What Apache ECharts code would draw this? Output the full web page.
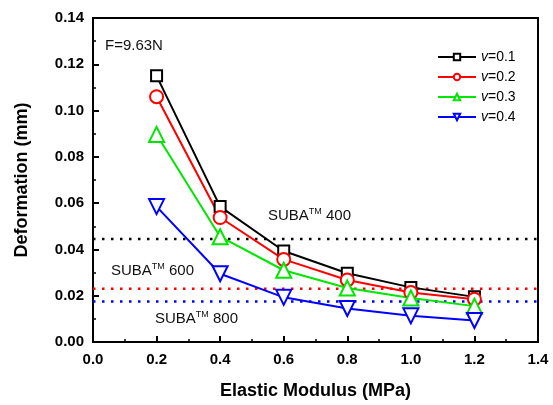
<!DOCTYPE html>
<html>
<head>
<meta charset="utf-8">
<script src="https://cdn.jsdelivr.net/npm/echarts@6/dist/echarts.min.js"></script>
<style>
  html, body { margin: 0; padding: 0; background: #fff; }
  #chart { width: 553px; height: 405px; }
</style>
</head>
<body>
<div id="chart"></div>
<script>
// Elastic modulus of the pad (MPa)
const modulus = [0.2, 0.4, 0.6, 0.8, 1.0, 1.2];

// Deformation (mm) for each Poisson's ratio
const nu01 = [0.115, 0.0585, 0.0393, 0.0297, 0.0236, 0.0195];
const nu02 = [0.106, 0.0538, 0.0357, 0.0268, 0.0214, 0.0185];
const nu03 = [0.0897, 0.0455, 0.031, 0.0233, 0.019, 0.0155];
const nu04 = [0.0585, 0.0295, 0.0193, 0.0145, 0.0113, 0.0093];

const seriesNames = ['0.1', '0.2', '0.3', '0.4'];

// Reference deformation of commercial pads
const suba400 = 0.0445;
const suba600 = 0.023;
const suba800 = 0.0175;

const xRange = [0, 1.4];

const FONT = 'Arial, "Liberation Sans", sans-serif';

function pairs(ys) {
  return modulus.map((x, i) => [x, ys[i]]);
}

function curve(name, ys, color, symbol, size, rotate) {
  return {
    name: name,
    type: 'line',
    data: pairs(ys),
    color: color,
    symbol: symbol,
    symbolSize: size,
    symbolRotate: rotate || 0,
    showAllSymbol: true,
    lineStyle: { color: color, width: 2 },
    itemStyle: { color: color, borderColor: color, borderWidth: 1.6 },
    z: 3
  };
}

function refLine(y, color) {
  return {
    type: 'line',
    data: xRange.map(x => [x, y]),
    symbol: 'none',
    silent: true,
    lineStyle: { color: color, width: 2.5, type: [2.5, 6.5], cap: 'butt' },
    z: 2
  };
}

const chart = echarts.init(document.getElementById('chart'), null, { renderer: 'canvas' });

const supLabel = (num) => ({
  type: 'text',
  style: {
    text: 'SUBA{sup|TM} ' + num,
    font: '15px ' + FONT,
    fill: '#111',
    rich: {
      sup: { fontSize: 9, fontFamily: FONT, fill: '#111', padding: [0, 0, 9, 0] }
    }
  }
});

chart.setOption({
  animation: false,
  backgroundColor: '#fff',
  grid: {
    left: 93, right: 15, top: 18, bottom: 62,
    show: true, borderColor: '#000', borderWidth: 2, backgroundColor: 'transparent'
  },
  legend: {
    data: seriesNames,
    orient: 'vertical',
    left: 432,
    top: 45,
    itemWidth: 38,
    itemHeight: 8,
    itemGap: 6,
    formatter: n => '{i|v}=' + n,
    textStyle: {
      fontFamily: FONT, fontSize: 14, color: '#000',
      rich: { i: { fontStyle: 'italic', fontFamily: FONT, fontSize: 14, color: '#000' } }
    }
  },
  xAxis: {
    type: 'value',
    min: 0, max: 1.4, interval: 0.2,
    name: 'Elastic Modulus (MPa)',
    nameLocation: 'middle',
    nameGap: 40,
    nameTextStyle: { fontFamily: FONT, fontWeight: 'bold', fontSize: 18, color: '#000' },
    axisLine: { lineStyle: { color: '#000', width: 2 } },
    axisTick: { inside: true, length: 6, lineStyle: { color: '#000', width: 2 } },
    minorTick: { show: true, splitNumber: 2, length: 3, lineStyle: { color: '#000', width: 1.5 } },
    splitLine: { show: false },
    axisLabel: {
      margin: 10,
      formatter: v => v.toFixed(1),
      fontFamily: FONT, fontWeight: 'bold', fontSize: 15, color: '#000'
    }
  },
  yAxis: {
    type: 'value',
    min: 0, max: 0.14, interval: 0.02,
    name: 'Deformation (mm)',
    nameLocation: 'middle',
    nameGap: 62,
    nameTextStyle: { fontFamily: FONT, fontWeight: 'bold', fontSize: 18, color: '#000' },
    axisLine: { show: true, lineStyle: { color: '#000', width: 2 } },
    axisTick: { inside: true, length: 6, lineStyle: { color: '#000', width: 2 } },
    minorTick: { show: true, splitNumber: 2, length: 3, lineStyle: { color: '#000', width: 1.5 } },
    splitLine: { show: false },
    axisLabel: {
      margin: 9,
      formatter: v => v.toFixed(2),
      fontFamily: FONT, fontWeight: 'bold', fontSize: 15, color: '#000'
    }
  },
  graphic: [
    { type: 'text', left: 105, top: 38, style: { text: 'F=9.63N', font: '15px ' + FONT, fill: '#111' } },
    Object.assign(supLabel('400'), { left: 268, top: 207 }),
    Object.assign(supLabel('600'), { left: 111, top: 262 }),
    Object.assign(supLabel('800'), { left: 155, top: 310 })
  ],
  series: [
    refLine(suba400, '#000'),
    refLine(suba600, '#ff0000'),
    refLine(suba800, '#0000ff'),
    curve('0.1', nu01, '#000000', 'emptyRect', 11),
    curve('0.2', nu02, '#ff0000', 'emptyCircle', 13),
    curve('0.3', nu03, '#00e600', 'emptyTriangle', 15),
    curve('0.4', nu04, '#0000ff', 'emptyTriangle', 15, 180)
  ]
});
</script>
</body>
</html>
